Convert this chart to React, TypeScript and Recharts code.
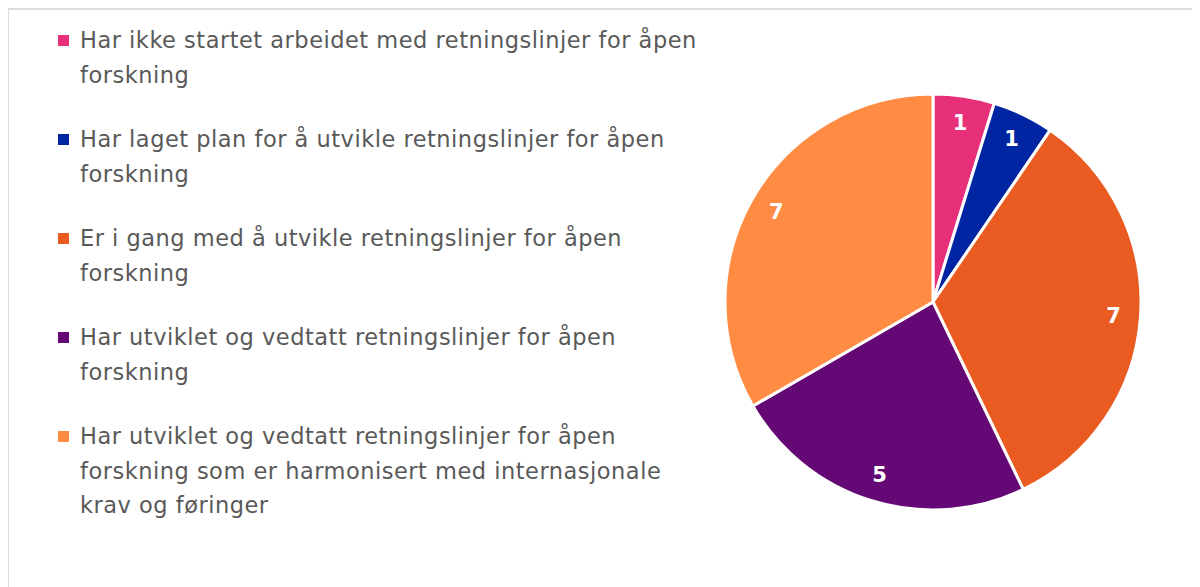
import React from 'react';
import { PieChart, Pie, Cell, Legend } from 'recharts';

const categories = [
  'Har ikke startet arbeidet med retningslinjer for åpen\nforskning',
  'Har laget plan for å utvikle retningslinjer for åpen\nforskning',
  'Er i gang med å utvikle retningslinjer for åpen\nforskning',
  'Har utviklet og vedtatt retningslinjer for åpen\nforskning',
  'Har utviklet og vedtatt retningslinjer for åpen\nforskning som er harmonisert med internasjonale\nkrav og føringer',
];
const values = [1, 1, 7, 5, 7];
const colors = ['#E8307A', '#0025A2', '#E95B20', '#630874', '#FF8C42'];

const data = categories.map((name, i) => ({ name, value: values[i] }));

const FONT = '"DejaVu Sans", sans-serif';
const RAD = Math.PI / 180;

const renderLabel = (props: any) => {
  const { cx, cy, midAngle, outerRadius, value } = props;
  const r = outerRadius * 0.87;
  const x = cx + r * Math.cos(-midAngle * RAD);
  const y = cy + r * Math.sin(-midAngle * RAD);
  return (
    <text x={x} y={y} fill="#fff" textAnchor="middle" dominantBaseline="central"
      style={{ fontFamily: FONT, fontWeight: 700, fontSize: 21 }}>
      {value}
    </text>
  );
};

const renderLegend = () => (
  <div style={{ fontFamily: FONT, fontSize: 22.5, letterSpacing: 0.5, color: '#595959' }}>
    {data.map((d, i) => (
      <div key={i} style={{ display: 'flex', alignItems: 'flex-start', marginBottom: 30 }}>
        <div style={{ width: 11, height: 11, background: colors[i], marginTop: 12, marginRight: 11, flexShrink: 0 }} />
        <div style={{ whiteSpace: 'pre', lineHeight: '34.5px' }}>{d.name}</div>
      </div>
    ))}
  </div>
);

export default function App() {
  return (
    <div style={{ width: 1191, height: 577, borderTop: '2px solid #dcdcdc', borderLeft: '2px solid #dcdcdc', marginLeft: -1, background: '#fff' }}>
      <PieChart width={1191} height={577}>
        <Pie
          data={data}
          dataKey="value"
          nameKey="name"
          cx={919}
          cy={287}
          outerRadius={208}
          startAngle={90}
          endAngle={-270}
          stroke="#fff"
          strokeWidth={3}
          label={renderLabel}
          labelLine={false}
          isAnimationActive={false}
        >
          {data.map((_, i) => <Cell key={i} fill={colors[i]} />)}
        </Pie>
        <Legend content={renderLegend} layout="vertical" verticalAlign="top" align="left"
          wrapperStyle={{ left: 49, top: 13, width: 0, overflow: 'visible' }} />
      </PieChart>
    </div>
  );
}
